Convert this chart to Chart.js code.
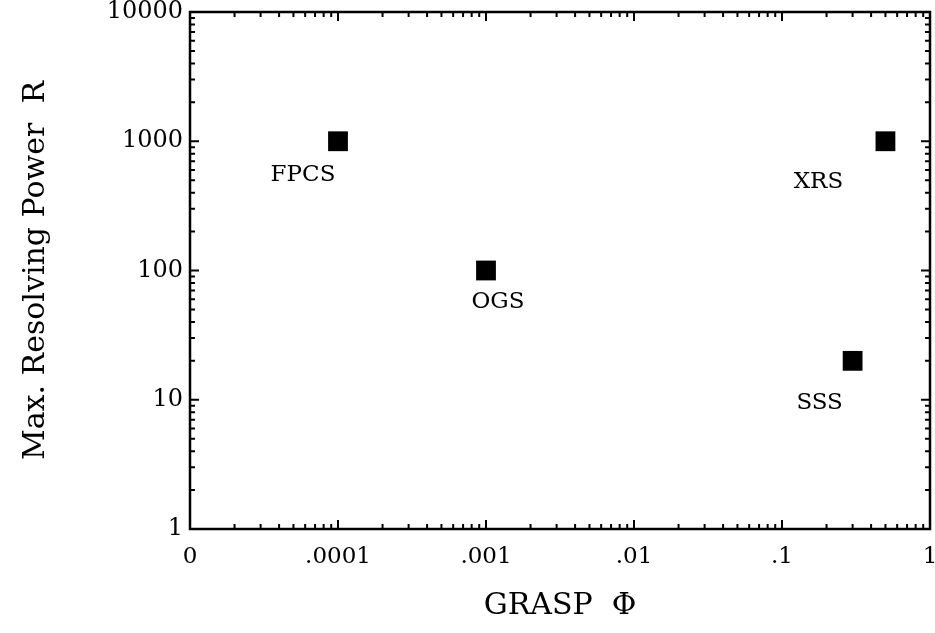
<!DOCTYPE html>
<html>
<head>
<meta charset="utf-8">
<script src="https://cdn.jsdelivr.net/npm/chart.js@4.4.0/dist/chart.umd.min.js"></script>
<style>
  html, body { margin: 0; padding: 0; background: #fff; }
</style>
</head>
<body>
<canvas id="grasp-chart" width="935" height="633"></canvas>
<script>
// data
const instruments = ["FPCS", "OGS", "XRS", "SSS"];
const graspValues = [0.0001, 0.001, 0.5, 0.3];
const resolvingPower = [1000, 100, 1000, 20];

const xTickValues = [0.00001, 0.0001, 0.001, 0.01, 0.1, 1];
const xTickLabels = ["0", ".0001", ".001", ".01", ".1", "1"];
const yTickValues = [1, 10, 100, 1000, 10000];
const yTickLabels = ["1", "10", "100", "1000", "10000"];

const SERIF = "'DejaVu Serif', 'Liberation Serif', serif";

// decade + 2..9 minor positions for the inward tick marks
function logMarks(decades) {
  const marks = [];
  for (let i = 0; i < decades.length; i++) {
    marks.push({ v: decades[i], major: true });
    if (i < decades.length - 1) {
      for (let m = 2; m <= 9; m++) marks.push({ v: decades[i] * m, major: false });
    }
  }
  return marks;
}

// box around the plot with ticks pointing inwards on all four sides
const frameTicks = {
  id: "frameTicks",
  afterDraw(chart) {
    const { ctx, chartArea: a, scales: { x, y } } = chart;
    ctx.save();
    ctx.strokeStyle = "#000";
    ctx.lineWidth = 2.5;
    ctx.strokeRect(a.left, a.top, a.right - a.left, a.bottom - a.top);
    ctx.lineWidth = 2;
    ctx.beginPath();
    logMarks(xTickValues).forEach(({ v, major }) => {
      const px = x.getPixelForValue(v);
      const len = major ? 9 : 5;
      ctx.moveTo(px, a.bottom); ctx.lineTo(px, a.bottom - len);
      ctx.moveTo(px, a.top); ctx.lineTo(px, a.top + len);
    });
    logMarks(yTickValues).forEach(({ v, major }) => {
      const py = y.getPixelForValue(v);
      const len = major ? 9 : 5;
      ctx.moveTo(a.left, py); ctx.lineTo(a.left + len, py);
      ctx.moveTo(a.right, py); ctx.lineTo(a.right - len, py);
    });
    ctx.stroke();
    ctx.restore();
  }
};

// instrument names next to their markers
const labelOffsets = [[-35, 34], [12, 32], [-67, 41], [-33, 42]];
const pointLabels = {
  id: "pointLabels",
  afterDatasetsDraw(chart) {
    const { ctx } = chart;
    const meta = chart.getDatasetMeta(0);
    ctx.save();
    ctx.fillStyle = "#000";
    ctx.font = "23px " + SERIF;
    ctx.textAlign = "center";
    ctx.textBaseline = "middle";
    meta.data.forEach((pt, i) => {
      ctx.fillText(instruments[i], pt.x + labelOffsets[i][0], pt.y + labelOffsets[i][1]);
    });
    ctx.restore();
  }
};

const config = {
  type: "scatter",
  data: {
    datasets: [
      {
        label: "Max. Resolving Power",
        data: graspValues.map((g, i) => ({ x: g, y: resolvingPower[i] })),
        pointStyle: "rect",
        radius: 14,
        hoverRadius: 14,
        backgroundColor: "#000",
        borderColor: "#000",
        borderWidth: 0,
      },
    ],
  },
  options: {
    responsive: false,
    animation: false,
    layout: { autoPadding: false, padding: { top: 12, right: 5, left: 0, bottom: 0 } },
    plugins: {
      legend: { display: false },
      tooltip: { enabled: false },
    },
    scales: {
      x: {
        type: "logarithmic",
        min: 0.00001,
        max: 1,
        afterBuildTicks: (scale) => {
          scale.ticks = xTickValues.map((v) => ({ value: v }));
        },
        afterFit: (scale) => {
          scale.height = 104;
          scale.paddingLeft = 0;
          scale.paddingRight = 0;
        },
        grid: { display: false, drawTicks: false },
        border: { display: false },
        ticks: {
          callback: (v, i) => xTickLabels[i],
          autoSkip: false,
          maxRotation: 0,
          padding: 14,
          color: "#000",
          font: { family: SERIF, size: 23 },
        },
        title: {
          display: true,
          text: "GRASP  \u03A6",
          color: "#000",
          font: { family: SERIF, size: 30 },
          padding: { top: 0, bottom: 9 },
        },
      },
      y: {
        type: "logarithmic",
        min: 1,
        max: 10000,
        afterBuildTicks: (scale) => {
          scale.ticks = yTickValues.map((v) => ({ value: v }));
        },
        afterFit: (scale) => {
          scale.width = 190;
          scale.paddingTop = 0;
          scale.paddingBottom = 0;
        },
        grid: { display: false, drawTicks: false },
        border: { display: false },
        ticks: {
          callback: (v, i) => yTickLabels[i],
          autoSkip: false,
          padding: 7,
          color: "#000",
          font: { family: SERIF, size: 24 },
        },
        title: {
          display: true,
          text: "Max. Resolving Power  R",
          color: "#000",
          font: { family: SERIF, size: 30 },
          padding: { top: 18, bottom: 0 },
        },
      },
    },
  },
  plugins: [frameTicks, pointLabels],
};

const ctx = document.getElementById("grasp-chart").getContext("2d");
new Chart(ctx, config);
</script>
</body>
</html>
